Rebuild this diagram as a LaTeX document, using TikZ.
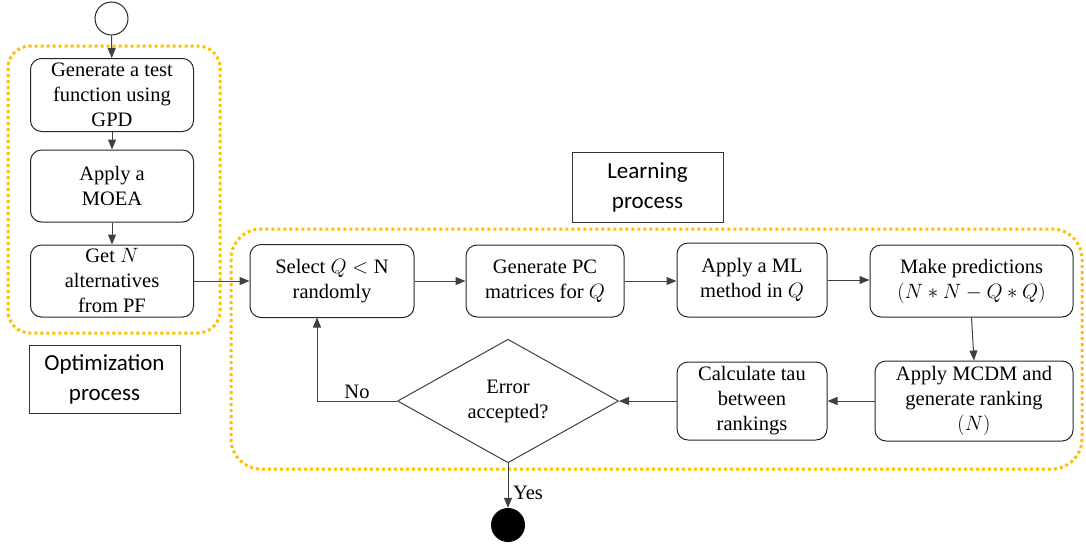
\documentclass[tikz,border=0pt]{standalone}
\usepackage{fontspec}
\setmainfont{Liberation Serif}
\newfontfamily\stepfont{Liberation Serif}
\newfontfamily\labelfont{Carlito}
\usetikzlibrary{shapes.geometric,arrows.meta}

\definecolor{linegrey}{HTML}{404040}
\definecolor{groupyellow}{HTML}{FFC000}

\tikzset{
  stepbox/.style={draw=black!85, line width=1pt, rounded corners=11pt,
    align=center, inner sep=2pt, font=\stepfont\fontsize{20.5}{25}\selectfont},
  decision/.style={draw=linegrey, line width=1pt, shape=diamond, inner sep=0pt,
    align=center, font=\stepfont\fontsize{20.5}{25}\selectfont},
  tagbox/.style={draw=black!80, line width=1pt, align=center,
    font=\labelfont\fontsize{23}{30}\selectfont},
  flow/.style={draw=linegrey, line width=1pt, -{Triangle[length=10pt,width=8pt]}},
  group/.style={draw=groupyellow, line width=3pt, dash pattern=on 3pt off 3pt},
  answer/.style={font=\stepfont\fontsize{20.5}{25}\selectfont, inner sep=1pt},
}

\begin{document}
\begin{tikzpicture}[x=1pt,y=-1pt]
\useasboundingbox (0,0) rectangle (1086,544);

% dotted group outlines
\draw[group, rounded corners=22pt] (8,46) rectangle (220,333);
\draw[group, rounded corners=30pt] (231,229) rectangle (1082,469);

% start and end markers
\node[draw=black!85, line width=1pt, circle, minimum size=33pt, inner sep=0pt] (start) at (111.5,18.5) {};
\node[fill=black, circle, minimum size=34pt, inner sep=0pt] (stop) at (508,525) {};

% optimization steps
\node[stepbox, minimum width=163pt, minimum height=73pt] (gen) at (112,95)
  {Generate a test\\function using\\GPD};
\node[stepbox, minimum width=163pt, minimum height=72pt] (moea) at (112,186)
  {Apply a\\MOEA};
\node[stepbox, minimum width=163pt, minimum height=72pt] (getn) at (112,281)
  {Get $N$\\alternatives\\from PF};

% learning steps
\node[stepbox, minimum width=164pt, minimum height=73pt] (select) at (332,281)
  {Select $Q<\mathrm{N}$\\randomly};
\node[stepbox, minimum width=158pt, minimum height=72pt] (pc) at (545,281)
  {Generate PC\\matrices for $Q$};
\node[stepbox, minimum width=150pt, minimum height=74pt] (ml) at (752,280)
  {Apply a ML\\method in $Q$};
\node[stepbox, minimum width=203pt, minimum height=72pt] (pred) at (971.5,281)
  {Make predictions\\$(N*N-Q*Q)$};
\node[stepbox, minimum width=198pt, minimum height=80pt] (mcdm) at (974,401)
  {Apply MCDM and\\generate ranking\\$(N)$};
\node[stepbox, minimum width=150pt, minimum height=78pt] (tau) at (752,401)
  {Calculate tau\\between\\rankings};
\node[decision, minimum width=221pt, minimum height=118pt] (err) at (508,401)
  {Error\\accepted?};

% group labels
\node[tagbox, minimum width=151pt, minimum height=68pt] (optlabel) at (104.5,379)
  {Optimization\\process};
\node[tagbox, minimum width=151pt, minimum height=70pt] (learnlabel) at (647.5,187)
  {Learning\\process};

% connectors
\draw[flow] (start) -- (gen);
\draw[flow] (gen) -- (moea);
\draw[flow] (moea) -- (getn);
\draw[flow] (getn) -- (select);
\draw[flow] (select) -- (pc);
\draw[flow] (pc.east) -- (ml.west |- pc.east);
\draw[flow] (ml.east) -- (pred.west |- ml.east);
\draw[flow] (pred.south) -- (mcdm.north);
\draw[flow] (mcdm) -- (tau);
\draw[flow] (tau) -- (err);
\draw[flow] (err.west) -- (317,401) -- (317,317.5);
\draw[flow] (err.south) -- (stop.north);

% branch labels
\node[answer] (no) at (357,392) {No};
\node[answer] (yes) at (528,493) {Yes};
\end{tikzpicture}
\end{document}
